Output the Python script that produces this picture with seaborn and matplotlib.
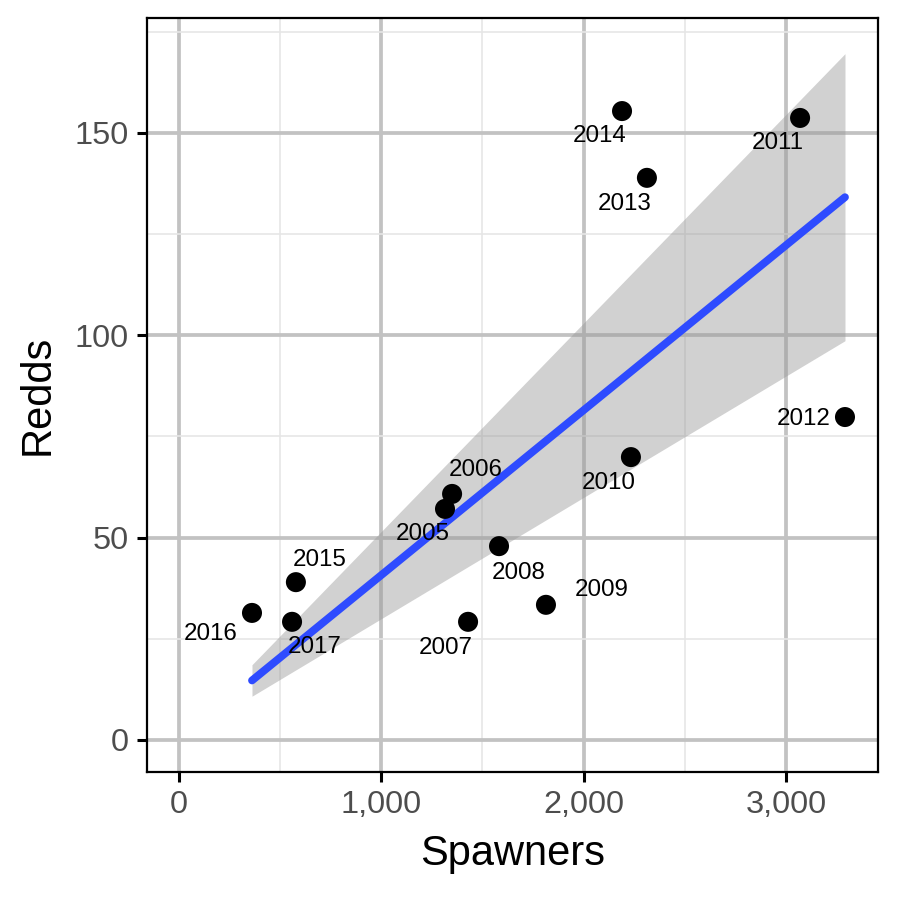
import numpy as np
import pandas as pd
import matplotlib
matplotlib.use("Agg")
import matplotlib.pyplot as plt
from matplotlib.ticker import FuncFormatter, MultipleLocator
import seaborn as sns

years = [2005, 2006, 2007, 2008, 2009, 2010, 2011, 2012, 2013, 2014, 2015, 2016, 2017]
spawners = [1315, 1350, 1429, 1582, 1814, 2234, 3070, 3292, 2313, 2190, 578, 361, 559]
redds = [57.1, 60.8, 29.2, 47.9, 33.4, 69.9, 153.7, 79.8, 138.9, 155.4, 39.0, 31.4, 29.2]

# label offsets (points) for each year's text, relative to its point
label_dx = [-8, 8.5, -8, 7, 20, -8, -8, -15, -8, -8, 8.5, -15, 8]
label_dy = [-9, 8.5, -9.5, -9.5, 5.5, -9.5, -9, -0.7, -9.5, -9, 8, -7.5, -9]

df = pd.DataFrame({"Year": years, "Spawners": spawners, "Redds": redds})

# regression through the origin: Redds ~ 0 + Spawners
x = df["Spawners"].to_numpy(float)
y = df["Redds"].to_numpy(float)
sxx = np.sum(x * x)
b = np.sum(x * y) / sxx
resid = y - b * x
n = len(x)
s = np.sqrt(np.sum(resid ** 2) / (n - 1))
t_crit = 2.178813  # t(0.975, df=12)
xg = np.linspace(x.min(), x.max(), 100)
fit = pd.DataFrame({"Spawners": xg, "Redds": b * xg})
half = t_crit * s * xg / np.sqrt(sxx)

sns.set_theme(style="white")
plt.rcParams["font.family"] = ["Liberation Sans", "DejaVu Sans"]

fig = plt.figure(figsize=(4.495, 4.495), dpi=200)
ax = fig.add_axes([0.1635, 0.1413, 0.9766 - 0.1635, 0.98 - 0.1413])

ax.set_xlim(-158, 3455)
ax.set_ylim(-7.9, 178.4)
ax.xaxis.set_major_locator(MultipleLocator(1000))
ax.xaxis.set_minor_locator(MultipleLocator(500))
ax.yaxis.set_major_locator(MultipleLocator(50))
ax.yaxis.set_minor_locator(MultipleLocator(25))
ax.grid(which="major", color="#C2C2C2", linewidth=1.35, zorder=0)
ax.grid(which="minor", color="#E6E6E6", linewidth=0.6, zorder=0)
ax.set_axisbelow(True)

ax.fill_between(xg, b * xg - half, b * xg + half, color="#999999", alpha=0.45,
                linewidth=0, zorder=2)
sns.lineplot(data=fit, x="Spawners", y="Redds", ax=ax, color="#2E4BFF",
             linewidth=2.8, zorder=3)
sns.scatterplot(data=df, x="Spawners", y="Redds", ax=ax, color="black", s=52,
                edgecolor="none", zorder=4)

for yr, xs, ys, dx, dy in zip(years, spawners, redds, label_dx, label_dy):
    ax.annotate(str(yr), (xs, ys), xytext=(dx, dy), textcoords="offset points",
                ha="center", va="center", fontsize=8.7, color="black", zorder=5)

ax.xaxis.set_major_formatter(FuncFormatter(lambda v, p: f"{int(v):,}"))
ax.tick_params(axis="both", which="major", length=3.6, width=1.1, color="black",
               labelsize=11.7, labelcolor="#4D4D4D", pad=3, bottom=True, left=True)
ax.tick_params(axis="both", which="minor", length=0)
for sp in ax.spines.values():
    sp.set_color("black")
    sp.set_linewidth(0.8)
    sp.set_zorder(6)

ax.set_xlabel("Spawners", fontsize=15, color="black", labelpad=5)
ax.set_ylabel("Redds", fontsize=15, color="black", labelpad=6)

fig.savefig("out.png", dpi=200)
